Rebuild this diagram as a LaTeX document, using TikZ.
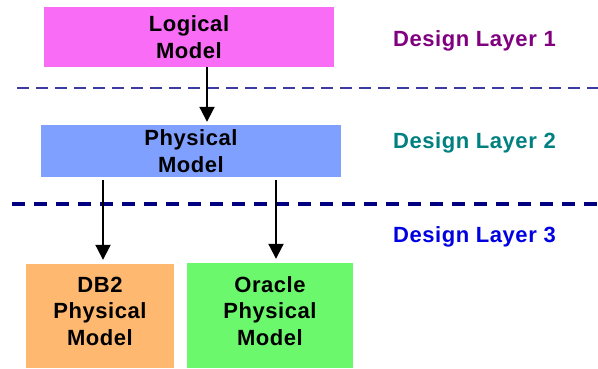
\documentclass[tikz,border=0pt]{standalone}
\usepackage{fontspec}
\setmainfont{Liberation Sans}
\newfontfamily\diagfont[LetterSpace=2.5]{Liberation Sans}
\usetikzlibrary{arrows.meta}
\definecolor{logicC}{HTML}{F96CF5}
\definecolor{physC}{HTML}{80A0FF}
\definecolor{dbC}{HTML}{FFB870}
\definecolor{oraC}{HTML}{6CF86C}
\definecolor{lOne}{HTML}{800080}
\definecolor{lTwo}{HTML}{008080}
\definecolor{lThree}{HTML}{0000E0}
\definecolor{sepOne}{HTML}{3C3CA0}
\definecolor{sepTwo}{HTML}{000080}
\begin{document}
\begin{tikzpicture}[x=1pt,y=-1pt,
  txt/.style={inner sep=0pt, align=center, font=\diagfont\fontsize{22}{26.5}\selectfont\bfseries},
  box/.style={txt},
  boxonly/.style={inner sep=0pt},
  lab/.style={inner sep=0pt, anchor=west, font=\diagfont\fontsize{22}{26}\selectfont\bfseries},
  arr/.style={line width=2pt, -{Triangle[width=15pt,length=15pt]}},
  sepa/.style={line width=2.6pt, sepOne, dash pattern=on 12pt off 7pt},
  sepb/.style={line width=3.5pt, sepTwo, dash pattern=on 13pt off 9pt}
]
\useasboundingbox (0,0) rectangle (598,368);
% boxes
\node[box, fill=logicC, minimum width=290pt, minimum height=60pt] (logical) at (189,37) {Logical\\Model};
\node[box, fill=physC, minimum width=300pt, minimum height=52pt] (physical) at (191,151) {Physical\\Model};
\node[boxonly, fill=dbC, minimum width=148pt, minimum height=104pt] (db2) at (100,316) {};
\node[txt] (db2t) at (100,311) {DB2\\Physical\\Model};
\node[boxonly, fill=oraC, minimum width=166pt, minimum height=105pt] (oracle) at (270,315.5) {};
\node[txt] (oraclet) at (270,311) {Oracle\\Physical\\Model};
% layer labels
\node[lab, text=lOne] (dl1) at (393,41) {Design Layer 1};
\node[lab, text=lTwo] (dl2) at (393,143) {Design Layer 2};
\node[lab, text=lThree] (dl3) at (393,237) {Design Layer 3};
% separators
\coordinate (s1a) at (17,88);
\coordinate (s1b) at (598,88);
\coordinate (s2a) at (12,204);
\coordinate (s2b) at (598,204);
\draw[sepa] (s1a) -- (s1b);
\draw[sepb] (s2a) -- (s2b);
% arrows
\coordinate (a1) at (207,0);
\coordinate (a2) at (103,0);
\coordinate (a3) at (276,0);
\draw[arr, shorten >=3pt] (logical.south -| a1) -- (physical.north -| a1);
\draw[arr, shorten <=3pt, shorten >=4pt] (physical.south -| a2) -- (db2.north -| a2);
\draw[arr, shorten <=3pt, shorten >=4pt] (physical.south -| a3) -- (oracle.north -| a3);
\end{tikzpicture}
\end{document}
